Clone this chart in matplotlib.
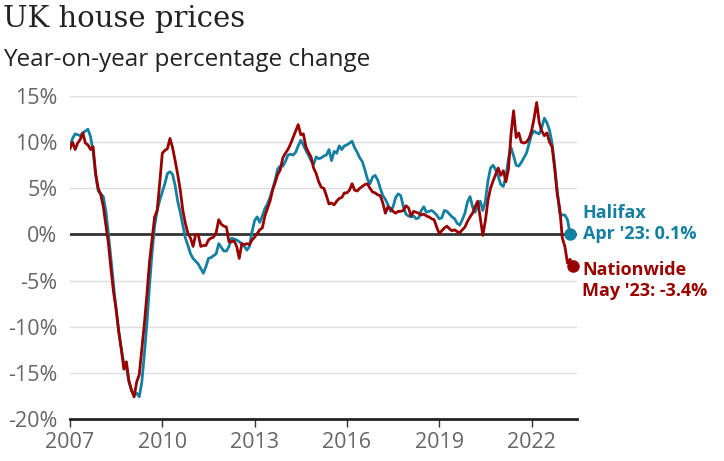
import numpy as np
import matplotlib
matplotlib.use('Agg')
import matplotlib.pyplot as plt

# Year-on-year % change, monthly from Jan 2007
halifax = [
    9.6, 10.4, 10.9, 10.8, 10.7, 11.0, 11.2, 11.4, 10.6, 9.0, 6.4, 4.7,          # 2007
    4.4, 4.1, 2.5, 0.0, -2.7, -5.4, -8.2, -10.5, -12.4, -14.0, -14.5, -16.0,     # 2008
    -16.9, -17.4, -17.2, -17.6, -16.0, -13.0, -9.6, -5.6, -2.0, 0.9, 2.6, 3.7,   # 2009
    4.6, 5.5, 6.6, 6.8, 6.5, 5.3, 3.6, 2.4, 1.0, -0.4, -1.2, -2.1,               # 2010
    -2.6, -2.9, -3.2, -3.7, -4.2, -3.5, -2.6, -2.5, -2.3, -2.1, -1.0, -1.4,      # 2011
    -1.8, -1.8, -1.3, -0.4, -0.5, -0.6, -0.8, -1.0, -1.3, -1.7, -1.3, 0.3,       # 2012
    1.5, 1.9, 1.3, 2.0, 2.8, 3.3, 4.0, 4.9, 5.9, 7.1, 7.4, 7.4,                  # 2013
    7.9, 8.6, 8.7, 8.6, 8.9, 9.6, 10.2, 9.7, 9.1, 8.6, 8.0, 7.6,                 # 2014
    8.4, 8.2, 8.3, 8.5, 8.6, 9.2, 8.0, 9.0, 8.8, 9.6, 9.2, 9.6,                  # 2015
    9.7, 9.9, 10.1, 9.4, 8.9, 8.3, 7.9, 7.0, 6.0, 5.5, 6.2, 6.4,                 # 2016
    5.9, 5.0, 4.2, 3.8, 3.2, 2.5, 3.0, 4.0, 4.4, 4.2, 3.0, 2.2,                  # 2017
    2.0, 1.9, 2.0, 1.7, 1.8, 2.6, 3.0, 2.4, 2.5, 2.6, 2.4, 2.1,                  # 2018
    1.7, 1.8, 2.6, 2.5, 2.2, 1.9, 1.7, 1.2, 1.0, 1.6, 2.3, 3.5,                  # 2019
    4.1, 3.0, 2.4, 3.1, 3.6, 2.6, 3.6, 5.8, 7.2, 7.5, 7.0, 6.3,                  # 2020
    5.4, 5.2, 6.3, 8.2, 9.4, 8.5, 7.5, 7.4, 7.8, 8.3, 8.8, 9.8,                  # 2021
    10.8, 11.2, 11.0, 10.9, 11.6, 12.6, 12.1, 11.3, 9.9, 7.5, 4.8, 2.3,          # 2022
    2.1, 2.1, 1.6, 0.1,                                                          # 2023 (to Apr)
]

nationwide = [
    9.3, 10.0, 9.2, 9.9, 10.3, 11.0, 9.9, 9.7, 9.2, 9.5, 6.6, 5.0,               # 2007
    4.3, 3.0, 1.0, -1.0, -3.8, -6.3, -8.1, -10.5, -12.4, -14.6, -13.8, -15.9,    # 2008
    -16.9, -17.6, -16.0, -15.2, -12.4, -9.7, -6.5, -3.0, -0.5, 1.9, 2.6, 5.6,    # 2009
    8.8, 9.1, 9.3, 10.4, 9.4, 8.0, 6.5, 4.8, 2.6, 1.2, 0.1, -0.4,                # 2010
    -1.3, 0.0, 0.0, -1.3, -1.2, -1.2, -0.6, -0.4, -0.3, 0.2, 1.6, 1.1,           # 2011
    0.9, 0.8, -0.8, -0.8, -0.7, -1.3, -2.6, -1.0, -1.1, -1.0, -1.1, -0.6,        # 2012
    -0.3, 0.1, 0.5, 0.7, 2.0, 2.8, 3.6, 4.8, 5.6, 6.5, 7.0, 8.3,                 # 2013
    8.8, 9.2, 9.8, 10.5, 11.2, 11.9, 10.8, 10.9, 9.5, 8.9, 8.4, 7.2,             # 2014
    6.6, 5.7, 5.1, 5.0, 4.2, 3.3, 3.4, 3.2, 3.6, 3.9, 4.0, 4.5,                  # 2015
    4.5, 4.8, 5.5, 4.8, 4.7, 5.0, 5.2, 5.4, 5.5, 5.0, 4.6, 4.5,                  # 2016
    4.3, 4.2, 3.4, 2.3, 3.0, 2.8, 2.5, 2.3, 2.5, 2.5, 2.6, 3.1,                  # 2017
    2.9, 2.0, 2.5, 2.4, 2.3, 2.1, 2.2, 2.0, 1.9, 1.7, 1.6, 0.8,                  # 2018
    0.1, 0.4, 0.7, 0.9, 0.6, 0.4, 0.5, 0.3, 0.2, 0.5, 0.8, 1.4,                  # 2019
    1.9, 2.3, 3.0, 3.6, 1.8, -0.1, 1.5, 3.7, 5.0, 5.8, 6.5, 7.2,                 # 2020
    6.4, 6.9, 5.7, 7.1, 10.9, 13.4, 10.5, 11.0, 10.0, 9.9, 10.0, 10.4,           # 2021
    11.2, 12.6, 14.3, 12.1, 11.2, 10.7, 11.0, 10.0, 9.5, 7.2, 4.4, 2.8,          # 2022
    -0.4, -1.3, -3.1, -2.7, -3.4,                                                # 2023 (to May)
]

year_ticks = [2007, 2010, 2013, 2016, 2019, 2022]
pct_ticks = [-20, -15, -10, -5, 0, 5, 10, 15]

halifax_col = '#1380a1'
nationwide_col = '#990000'
grey_txt = '#666666'
sans = ['Open Sans', 'DejaVu Sans']

t_hal = 2007 + np.arange(len(halifax)) / 12.
t_nat = 2007 + np.arange(len(nationwide)) / 12.

fig = plt.figure(figsize=(7.24, 4.61), dpi=100)
ax = fig.add_axes([70/724., 42/461., 507/724., 323/461.])

# grid + zero line
for v in pct_ticks:
    if v == 0:
        ax.axhline(0, color='#333333', lw=2, zorder=1)
    elif v > -20:
        ax.axhline(v, color='#dddddd', lw=1, zorder=0)

ax.plot(t_hal, halifax, color=halifax_col, lw=2, zorder=2, solid_joinstyle='round')
ax.plot(t_nat, nationwide, color=nationwide_col, lw=2, zorder=3, solid_joinstyle='round')
ax.plot(t_hal[-1], halifax[-1], 'o', color=halifax_col, ms=8, zorder=4, clip_on=False)
ax.plot(t_nat[-1], nationwide[-1], 'o', color=nationwide_col, ms=8, zorder=4, clip_on=False)

ax.set_xlim(2007, 2007 + 507/30.77)
ax.set_ylim(-20, 15)

for s in ['top', 'right', 'left']:
    ax.spines[s].set_visible(False)
ax.spines['bottom'].set_linewidth(2)
ax.spines['bottom'].set_color('#222222')

ax.set_xticks(year_ticks)
ax.set_xticklabels([str(y) for y in year_ticks])
ax.set_yticks(pct_ticks)
ax.set_yticklabels(['%d%%' % v for v in pct_ticks])
ax.tick_params(axis='x', length=6, width=1, color='#333333', pad=3,
               labelsize=15.5, labelcolor=grey_txt)
ax.tick_params(axis='y', length=0, pad=9, labelsize=15.5, labelcolor=grey_txt)
for lab in ax.get_xticklabels() + ax.get_yticklabels():
    lab.set_fontfamily(sans)

# end labels
lab_kw = dict(textcoords='offset points', fontsize=13, fontweight='bold', family=sans,
              va='center', ha='left', annotation_clip=False)
ax.annotate('Halifax', xy=(t_hal[-1], halifax[-1]), xytext=(9, 15),
            color=halifax_col, **lab_kw)
ax.annotate('Apr \'23: 0.1%', xy=(t_hal[-1], halifax[-1]), xytext=(9, 0),
            color=halifax_col, **lab_kw)
ax.annotate('Nationwide', xy=(t_nat[-1], nationwide[-1]), xytext=(7, -3),
            color=nationwide_col, **lab_kw)
ax.annotate('May \'23: -3.4%', xy=(t_nat[-1], nationwide[-1]), xytext=(7, -18),
            color=nationwide_col, **lab_kw)

fig.text(3/724., 1 - 19/461., 'UK house prices', family='DejaVu Serif', fontsize=21,
         color='#222222', va='center', ha='left')
fig.text(3/724., 1 - 60/461., 'Year-on-year percentage change', family=sans,
         fontsize=17.5, color='#222222', va='center', ha='left')

fig.savefig('out.png', dpi=100)
